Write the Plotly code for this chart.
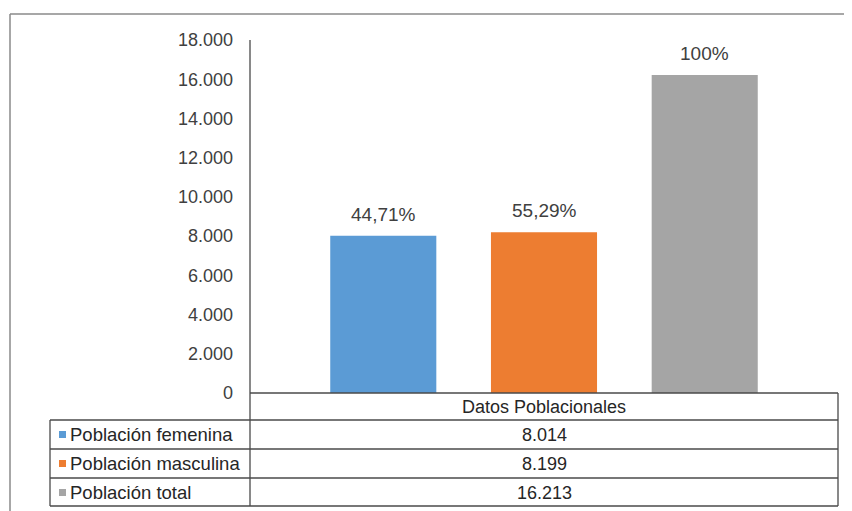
import plotly.graph_objects as go

# ---- data ----
category = ["Datos Poblacionales"]
series_names = ["Población femenina", "Población masculina", "Población total"]
series_values = [8014, 8199, 16213]
series_labels = ["44,71%", "55,29%", "100%"]
table_values = ["8.014", "8.199", "16.213"]
colors = ["#5B9BD5", "#ED7D31", "#A5A5A5"]

OFF = 8  # page body margin
W, H = 852 - OFF, 511 - OFF
L, R, T, B = 250, 838, 40, 393  # plot area in window pixels
BARGAP, GROUPGAP = 0.18, 0.34

def px(x):
    return (x - L) / (R - L)

def py(y):
    return (B - y) / (B - T)

FONT = "Liberation Sans, Arial, sans-serif"
TXT = "#404040"
DARK = "#262626"
LINE = "#4a4a4a"

fig = go.Figure()
for name, val, col in zip(series_names, series_values, colors):
    fig.add_trace(go.Bar(
        x=category, y=[val], name=name, marker_color=col,
        marker_line_width=0,
    ))

shapes = []
def line(x0, y0, x1, y1, color=LINE, width=1.3):
    shapes.append(dict(type="line", xref="paper", yref="paper",
                       x0=px(x0), y0=py(y0), x1=px(x1), y1=py(y1),
                       line=dict(color=color, width=width)))

# outer chart border
line(10, 14, 860, 14, color="#8a8a8a", width=1.5)
line(10, 14, 10, 520, color="#8a8a8a", width=1.5)

# axis lines / table
line(250, T, 250, 506)
line(250, B, 838, B)
line(838, B, 838, 506)
row_lines = [420, 449, 478, 506]
for yy in row_lines:
    line(50, yy, 838, yy)
line(50, 420, 50, 506)

annotations = []
# data labels above bars (slot width of each bar in the group, in pixels)
slot = (R - L) * (1 - BARGAP) / len(series_values)
n = len(series_values)
for i, (val, lab) in enumerate(zip(series_values, series_labels)):
    annotations.append(dict(x=category[0], y=val, xref="x", yref="y",
                            text=lab, showarrow=False,
                            xanchor="center", yanchor="bottom",
                            xshift=(i - (n - 1) / 2) * slot, yshift=9,
                            font=dict(family=FONT, size=19, color=TXT)))

annotations.append(dict(x=px(544), y=py(407), xref="paper", yref="paper",
                        text=category[0], showarrow=False,
                        xanchor="center", yanchor="middle",
                        font=dict(family=FONT, size=18, color=DARK)))
row_centers = [434.5, 463.5, 492.5]
for name, val, col, yc in zip(series_names, table_values, colors, row_centers):
    shapes.append(dict(type="rect", xref="paper", yref="paper",
                       x0=px(59), x1=px(66), y0=py(yc - 3.5), y1=py(yc + 3.5),
                       fillcolor=col, line=dict(width=0)))
    annotations.append(dict(x=px(68), y=py(yc), xref="paper", yref="paper",
                            text=name, showarrow=False, xanchor="left", yanchor="middle",
                            font=dict(family=FONT, size=18.5, color=DARK)))
    annotations.append(dict(x=px(544), y=py(yc), xref="paper", yref="paper",
                            text=val, showarrow=False, xanchor="center", yanchor="middle",
                            font=dict(family=FONT, size=18, color=DARK)))

fig.update_layout(
    width=W, height=H,
    margin=dict(l=L - OFF, r=W - (R - OFF), t=T - OFF, b=H - (B - OFF), pad=0),
    paper_bgcolor="white", plot_bgcolor="white",
    separators=",.",
    barmode="group", bargap=BARGAP, bargroupgap=GROUPGAP,
    showlegend=False,
    shapes=shapes, annotations=annotations,
    font=dict(family=FONT, size=18, color=TXT),
)
fig.update_xaxes(showticklabels=False, showline=False, showgrid=False, zeroline=False)
fig.update_yaxes(range=[0, 18000], dtick=2000, tickformat=",d", showgrid=False,
                 zeroline=False, showline=False, ticks="", ticklabelstandoff=16,
                 tickfont=dict(family=FONT, size=18, color=TXT))

fig.write_html("out.html")
